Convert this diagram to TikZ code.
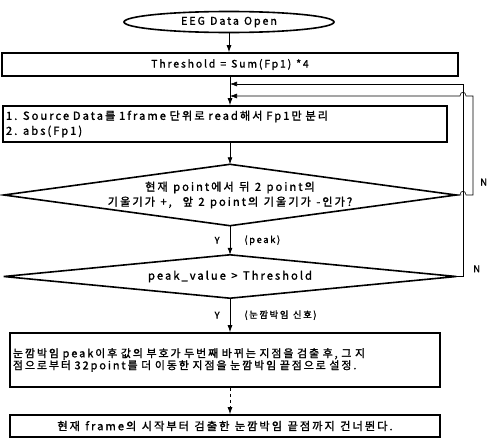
\documentclass[tikz,border=0pt]{standalone}
\usepackage{fontspec}
\setmainfont{Noto Sans CJK KR}
\newfontfamily\krfont{Noto Sans CJK KR}[LetterSpace=18,FakeBold=1.5,WordSpace=1.2]
\usetikzlibrary{arrows,arrows.meta,positioning,shapes}

\begin{document}
\begin{tikzpicture}[x=1pt,y=-1pt,
            every node/.style={font=\krfont\fontsize{11.2}{15}\selectfont},
            box/.style={draw,rectangle,line width=1.6pt,inner sep=2pt},
            terminal/.style={draw,ellipse,line width=1.6pt,minimum width=210pt,minimum height=21pt,inner sep=0pt},
            decision/.style={rectangle,minimum width=452pt,align=center,inner sep=0pt},
            rhomb/.style={draw,line width=1.6pt,line join=miter},
            flow/.style={-{Latex[length=7pt,width=5pt]},line width=0.8pt},
            lbl/.style={font=\krfont\fontsize{9.3}{11}\selectfont,inner sep=1pt}
          ]
          \useasboundingbox (0,0) rectangle (492,439);

          %start and threshold
          \node[terminal,font=\krfont\fontsize{10.7}{13}\selectfont] (open) at (229,22) {EEG Data Open};
          \node[box,minimum width=456pt,minimum height=23pt,font=\krfont\fontsize{10.4}{13}\selectfont] (thr) at (230,64.5)
            {Threshold = Sum(Fp1) *4};

          %frame read
          \node[box,minimum width=444pt,minimum height=36pt,text width=438pt,align=left] (src) at (225,124)
            {1. Source Data를 1frame 단위로 read해서 Fp1만 분리\\2. abs(Fp1)};
          \coordinate (j1) at (230,84);
          \coordinate (j2) at (230,96);

          %decisions
          \node[decision,minimum height=61pt] (peak) at (230,195)
            {현재 point에서 뒤 2 point의\\기울기가 +,\ \ 앞 2 point의 기울기가 -인가?};
          \draw[rhomb] (peak.north) -- (peak.east) -- (peak.south) -- (peak.west) -- cycle;
          \node[decision,minimum height=43pt] (cmp) at (230,276.5) {peak\_value > Threshold};
          \draw[rhomb] (cmp.north) -- (cmp.east) -- (cmp.south) -- (cmp.west) -- cycle;

          %blink end
          \node[box,minimum width=430pt,minimum height=54pt,text width=424pt,align=left,
                font=\krfont\fontsize{10.9}{12}\selectfont] (blink) at (225,360)
            {눈깜박임 peak이후 값의 부호가 두번째 바뀌는 지점을 검출 후, 그 지\\점으로부터 32point를 더 이동한 지점을 눈깜박임 끝점으로 설정.};
          \node[box,minimum width=430pt,minimum height=22pt] (skip) at (225,426)
            {현재 frame의 시작부터 검출한 눈깜박임 끝점까지 건너뛴다.};

          %main flow
          \draw[flow] (open.south) -- (open.south |- thr.north);
          \draw[flow] (thr.south) -- (thr.south |- src.north);
          \draw[flow] (thr.south |- src.south) -- (peak.north);
          \draw[flow] (peak.south) -- (cmp.north)
            node[lbl,midway,left=9pt] {Y}
            node[lbl,midway,right=13pt] {(peak)};
          \draw[flow] (cmp.south) -- (cmp.south |- blink.north)
            node[lbl,midway,left=9pt] {Y}
            node[lbl,midway,right=13pt] {(눈깜박임 신호)};
          \draw[flow,dashed] (cmp.south |- blink.south) -- (cmp.south |- skip.north);

          %loops back
          \draw[flow,line width=0.6pt] (cmp.east) -- (463,276.5) -- (463,84)
            node[lbl,pos=0.04,right=9pt] {N} -- (j1);
          \draw[flow,line width=0.6pt] (peak.east) -- (460,195)
            .. controls (460,190) and (466,190) .. (466,195) -- (473,195)
            -- (473,96) node[lbl,pos=0.13,right=6pt] {N}
            -- (466,96) .. controls (466,91) and (460,91) .. (460,96) -- (j2);
      \end{tikzpicture}
\end{document}
